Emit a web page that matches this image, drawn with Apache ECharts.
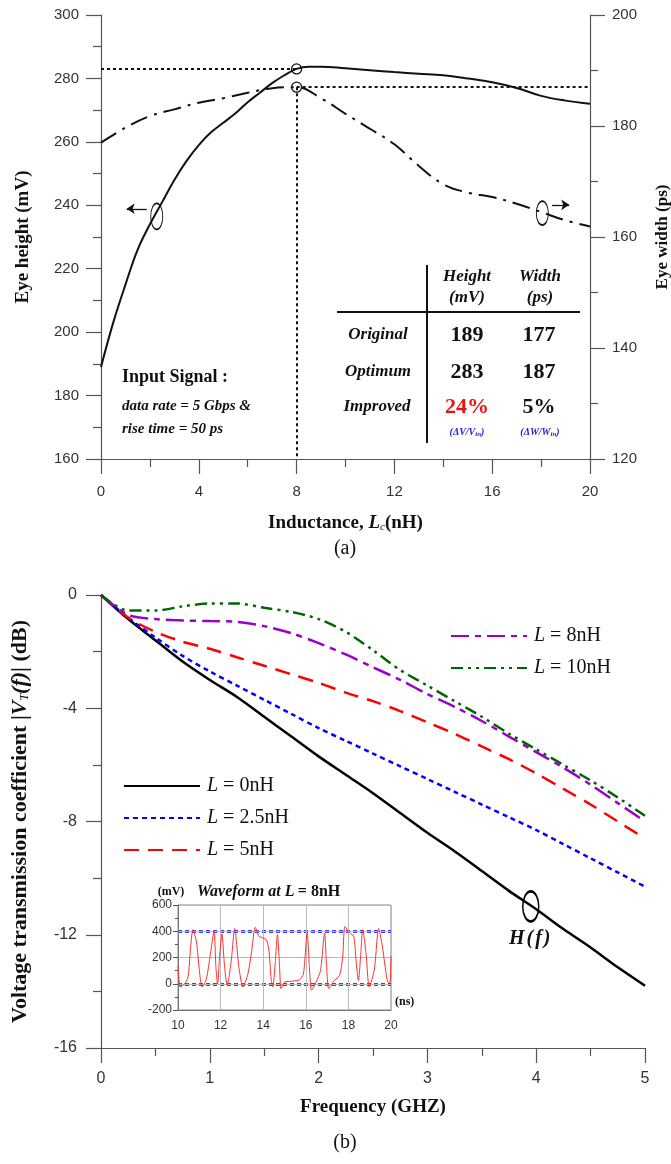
<!DOCTYPE html>
<html><head><meta charset="utf-8">
<script src="https://cdn.jsdelivr.net/npm/echarts@6/dist/echarts.min.js"></script>
<style>html,body{margin:0;padding:0;background:#fff}#c{width:671px;height:1164px}</style>
</head><body><div id="c"></div>
<script>
// ---------- (a) eye diagram vs inductance ----------
const heightL = [0,0.5,1,1.5,2,2.5,3,3.5,4,4.5,5,5.5,6,6.5,7,7.5,8,8.5,9,10,11,12,13,14,15,16,17,18,19,20];
const heightMV = [189,203,215,226,234,241,248,254,259,263,266,269,272.5,275.5,278.5,281,283,283.7,283.7,283.2,282.6,282,281.5,281,280,278.8,277,274.5,273,272];
const widthL = [0,1,2,3,4,5,6,7,8,9,10,11,12,13,14,15,16,17,18,19,20];
const widthPS = [177,179.7,181.8,183,184.2,185,186,186.8,187,185,182.2,179.5,176.7,172.8,169.5,168,167.2,166,164.5,163,161.9];
const optimumL = 8, optimumH = 283, optimumW = 187;

// ---------- (b) transmission coefficient ----------
const freq = [0,0.25,0.5,0.75,1,1.25,1.5,1.75,2,2.25,2.5,2.75,3,3.25,3.5,3.75,4,4.25,4.5,4.75,5];
const vt0 = [0,-0.85,-1.6,-2.35,-3.0,-3.6,-4.3,-5.0,-5.7,-6.35,-7.0,-7.7,-8.4,-9.05,-9.75,-10.45,-11.1,-11.8,-12.45,-13.15,-13.8];
const vt25 = [0,-0.8,-1.5,-2.15,-2.7,-3.2,-3.7,-4.2,-4.7,-5.15,-5.6,-6.05,-6.5,-6.95,-7.4,-7.85,-8.3,-8.8,-9.3,-9.8,-10.3];
const vt5 = [0,-0.8,-1.3,-1.65,-1.9,-2.2,-2.5,-2.8,-3.1,-3.45,-3.75,-4.1,-4.5,-4.9,-5.35,-5.8,-6.3,-6.85,-7.4,-8.0,-8.6];
const vt8 = [0,-0.7,-0.85,-0.9,-0.92,-0.95,-1.1,-1.35,-1.7,-2.1,-2.55,-3.0,-3.5,-3.95,-4.45,-5.0,-5.55,-6.1,-6.7,-7.35,-8.0];
const vt10 = [0,-0.55,-0.55,-0.4,-0.3,-0.3,-0.45,-0.6,-0.85,-1.3,-1.95,-2.65,-3.2,-3.75,-4.3,-4.9,-5.45,-6.0,-6.55,-7.15,-7.8];
const hfMark = [3.95, -11.0];

// ---------- inset waveform at L = 8nH ----------
const wfT = [10.00,10.11,10.31,10.47,10.58,10.70,10.86,11.02,11.13,11.33,11.52,11.69,11.78,11.86,11.95,12.06,12.19,12.31,12.50,12.66,12.86,13.05,13.28,13.44,13.63,13.80,14.14,14.27,14.38,14.45,14.56,14.67,14.77,14.84,15.0,15.39,15.70,15.89,16.06,16.17,16.27,16.48,16.69,16.88,16.98,17.08,17.34,17.58,17.73,17.84,18.05,18.25,18.36,18.47,18.58,18.67,18.83,18.98,19.22,19.42,19.58,19.73,19.86,19.95,20.0];
const wfV = [137,-25,0,50,250,412,325,75,-25,37,225,400,125,0,200,380,125,-12,175,420,125,-25,75,225,430,362,337,250,25,-25,150,375,125,-37,12,20,30,75,387,125,-50,12,100,387,125,-37,25,62,200,437,387,362,175,25,225,412,225,-25,112,420,300,125,12,12,212];
const wfLevels = [400, 0];

const zip = (a, b) => a.map((v, i) => [v, b[i]]);
const SERIF = '"Liberation Serif","Times New Roman",serif';
const SANS = '"Liberation Sans",Arial,sans-serif';
const INK = '#111';

const axisCommon = (extra) => Object.assign({
  type: 'value',
  axisLine: { show: true, onZero: false, lineStyle: { color: '#555', width: 1.2 } },
  axisTick: { show: true, length: 15, lineStyle: { color: '#555', width: 1.2 } },
  minorTick: { show: true, splitNumber: 2, length: 8, lineStyle: { color: '#555', width: 1.2 } },
  splitLine: { show: false },
  axisLabel: { color: '#333', fontFamily: SANS, fontSize: 15 },
  nameLocation: 'middle',
  nameMoveOverlap: false,
  nameTextStyle: { color: INK, fontFamily: SERIF, fontWeight: 'bold', fontSize: 19 }
}, extra);

const dotted = { type: [3, 3], width: 2, color: INK };
const ring = (coord, size) => ({ coord, symbol: 'circle', symbolSize: size,
  itemStyle: { color: 'rgba(0,0,0,0)', borderColor: INK, borderWidth: 1.3 }, label: { show: false } });
const arrowLine = (from, to) => ({ silent: true, symbol: ['none', 'arrow'], symbolSize: 8, label: { show: false },
  lineStyle: { type: 'solid', color: INK, width: 1.3 }, data: [[{ coord: from }, { coord: to }]] });

const legendFmt = name => '{i|L}{n|' + name.slice(1) + '}';
const legendRich = { i: { fontFamily: SERIF, fontStyle: 'italic', fontSize: 20, color: INK },
                     n: { fontFamily: SERIF, fontSize: 20, color: INK } };
const legendBase = { orient: 'vertical', itemWidth: 76, itemHeight: 20, itemGap: 12, selectedMode: false,
  formatter: legendFmt, itemStyle: { opacity: 0 }, textStyle: { rich: legendRich, padding: [0, 0, 0, 2] } };

const option = {
  animation: false,
  backgroundColor: '#fff',
  grid: [
    { left: 101, top: 15, width: 489, height: 444, outerBoundsMode: 'none', containLabel: false },
    { left: 101, top: 595, width: 544, height: 453, outerBoundsMode: 'none', containLabel: false },
    { left: 178, top: 905, width: 213, height: 105, outerBoundsMode: 'none', containLabel: false,
      show: true, borderColor: '#888', borderWidth: 1, backgroundColor: '#fff', z: 5 }
  ],
  xAxis: [
    axisCommon({ gridIndex: 0, min: 0, max: 20, interval: 4,
      axisLabel: { color: '#333', fontFamily: SANS, fontSize: 15, margin: 25 },
      name: '{b|Inductance, }{i|L}{s|c}{b|(nH)}', nameGap: 54,
      nameTextStyle: { rich: {
        b: { fontFamily: SERIF, fontWeight: 'bold', fontSize: 19, color: INK },
        i: { fontFamily: SERIF, fontWeight: 'bold', fontStyle: 'italic', fontSize: 19, color: INK },
        s: { fontFamily: SERIF, fontStyle: 'italic', fontSize: 11, color: INK, padding: [9, 0, 0, 0] } } } }),
    axisCommon({ gridIndex: 1, min: 0, max: 5, interval: 1,
      axisLabel: { color: '#333', fontFamily: SANS, fontSize: 16, margin: 23 },
      name: 'Frequency (GHZ)', nameGap: 50 }),
    axisCommon({ gridIndex: 2, min: 10, max: 20, interval: 2, z: 6,
      axisTick: { show: false }, minorTick: { show: false },
      axisLine: { show: true, onZero: false, lineStyle: { color: '#777', width: 1 } },
      splitLine: { show: true, lineStyle: { color: '#bbb', width: 1 } },
      axisLabel: { color: '#333', fontFamily: SANS, fontSize: 12, margin: 10 },
      name: '(ns)', nameLocation: 'end', nameGap: 4,
      nameTextStyle: { color: INK, fontFamily: SERIF, fontWeight: 'bold', fontSize: 12, verticalAlign: 'bottom', padding: [0, 0, 2, 0] } })
  ],
  yAxis: [
    axisCommon({ gridIndex: 0, min: 160, max: 300, interval: 20,
      axisLabel: { color: '#333', fontFamily: SANS, fontSize: 15, margin: 22 },
      name: 'Eye height (mV)', nameGap: 68 }),
    axisCommon({ gridIndex: 0, min: 120, max: 200, interval: 20, position: 'right',
      axisLabel: { color: '#333', fontFamily: SANS, fontSize: 15, margin: 22 },
      name: 'Eye width (ps)', nameGap: 64, nameRotate: 90,
      nameTextStyle: { color: INK, fontFamily: SERIF, fontWeight: 'bold', fontSize: 17 } }),
    axisCommon({ gridIndex: 1, min: -16, max: 0, interval: 4,
      axisLabel: { color: '#333', fontFamily: SANS, fontSize: 16, margin: 24 },
      name: '{b|Voltage transmission coefficient |}{i|V}{s|T}{i|(f)}{b|| (dB)}', nameGap: 70,
      nameTextStyle: { rich: {
        b: { fontFamily: SERIF, fontWeight: 'bold', fontSize: 22, color: INK },
        i: { fontFamily: SERIF, fontWeight: 'bold', fontStyle: 'italic', fontSize: 22, color: INK },
        s: { fontFamily: SERIF, fontStyle: 'italic', fontSize: 12, color: INK, padding: [10, 0, 0, 0] } } } }),
    axisCommon({ gridIndex: 2, min: -200, max: 600, interval: 200, z: 6,
      axisTick: { show: true, length: 5, lineStyle: { color: '#555' } },
      minorTick: { show: true, splitNumber: 2, length: 3, lineStyle: { color: '#555' } },
      axisLine: { show: true, onZero: false, lineStyle: { color: '#777', width: 1 } },
      splitLine: { show: true, lineStyle: { color: '#bbb', width: 1 } },
      axisLabel: { color: '#333', fontFamily: SANS, fontSize: 12, margin: 6 } })
  ],
  legend: [
    Object.assign({ data: ['L = 0nH', 'L = 2.5nH', 'L = 5nH'], left: 118, top: 771 }, legendBase),
    Object.assign({ data: ['L = 8nH', 'L = 10nH'], left: 445, top: 621 }, legendBase)
  ],
  series: [
    { name: 'Eye height', type: 'line', xAxisIndex: 0, yAxisIndex: 0, data: zip(heightL, heightMV),
      smooth: 0.4, symbol: 'none', lineStyle: { color: INK, width: 2 },
      markLine: { silent: true, symbol: 'none', label: { show: false }, lineStyle: dotted,
        data: [[{ coord: [0, optimumH] }, { coord: [optimumL, optimumH] }]] },
      markPoint: { silent: true, data: [ring([optimumL, optimumH], 10), ring([2.28, 236.5], [12, 26])] } },
    { name: 'Eye height arrow', type: 'line', xAxisIndex: 0, yAxisIndex: 0, data: [],
      markLine: arrowLine([1.87, 238.9], [1.05, 238.9]) },
    { name: 'Eye width', type: 'line', xAxisIndex: 0, yAxisIndex: 1, data: zip(widthL, widthPS),
      smooth: 0.4, symbol: 'none', lineStyle: { color: INK, width: 2, type: [18, 7, 3, 7] },
      markLine: { silent: true, symbol: 'none', label: { show: false }, lineStyle: dotted,
        data: [[{ coord: [optimumL, optimumW] }, { coord: [20, optimumW] }],
               [{ coord: [optimumL, optimumW] }, { coord: [optimumL, 120] }]] },
      markPoint: { silent: true, data: [ring([optimumL, optimumW], 10), ring([18.05, 164.3], [12, 24])] } },
    { name: 'Eye width arrow', type: 'line', xAxisIndex: 0, yAxisIndex: 1, data: [],
      markLine: arrowLine([18.45, 165.8], [19.15, 165.8]) },

    { name: 'L = 0nH', type: 'line', xAxisIndex: 1, yAxisIndex: 2, data: zip(freq, vt0), smooth: 0.3,
      symbol: 'none', lineStyle: { color: '#000', width: 2.5, type: 'solid' }, itemStyle: { color: '#000' },
      markPoint: { silent: true, data: [Object.assign(ring(hfMark, [16, 30]), {
        label: { show: true, position: 'bottom', distance: 6, formatter: '{a|H}{b|(}{a|f}{b|)}',
          rich: { a: { fontFamily: SERIF, fontWeight: 'bold', fontStyle: 'italic', fontSize: 20, color: INK },
                  b: { fontFamily: SERIF, fontWeight: 'bold', fontStyle: 'italic', fontSize: 20, color: INK, padding: [0, 2, 0, 2] } } },
        itemStyle: { color: 'rgba(0,0,0,0)', borderColor: '#000', borderWidth: 2 } })] } },
    { name: 'L = 2.5nH', type: 'line', xAxisIndex: 1, yAxisIndex: 2, data: zip(freq, vt25), smooth: 0.3,
      symbol: 'none', lineStyle: { color: '#0000ff', width: 2.5, type: [5, 4] }, itemStyle: { color: '#0000ff' } },
    { name: 'L = 5nH', type: 'line', xAxisIndex: 1, yAxisIndex: 2, data: zip(freq, vt5), smooth: 0.3,
      symbol: 'none', lineStyle: { color: '#ff0000', width: 2.5, type: [15, 9] }, itemStyle: { color: '#ff0000' } },
    { name: 'L = 8nH', type: 'line', xAxisIndex: 1, yAxisIndex: 2, data: zip(freq, vt8), smooth: 0.3,
      symbol: 'none', lineStyle: { color: '#9900cc', width: 2.5, type: [18, 6, 6, 6] }, itemStyle: { color: '#9900cc' } },
    { name: 'L = 10nH', type: 'line', xAxisIndex: 1, yAxisIndex: 2, data: zip(freq, vt10), smooth: 0.3,
      symbol: 'none', lineStyle: { color: '#006600', width: 2.5, type: [12, 5, 3, 5, 3, 5] }, itemStyle: { color: '#006600' } },

    { name: 'Waveform', type: 'line', xAxisIndex: 2, yAxisIndex: 3, data: zip(wfT, wfV), smooth: 0.25,
      symbol: 'none', z: 7, lineStyle: { color: '#ff3030', width: 1 },
      markLine: { silent: true, symbol: 'none', label: { show: false },
        lineStyle: { color: '#0000ff', width: 2.5, type: [4, 3] },
        data: wfLevels.map(v => ({ yAxis: v })) } }
  ],
  graphic: [
    // table of (a)
    { type: 'line', shape: { x1: 427, y1: 265, x2: 427, y2: 443 }, style: { stroke: INK, lineWidth: 2 } },
    { type: 'line', shape: { x1: 337, y1: 312, x2: 580, y2: 312 }, style: { stroke: INK, lineWidth: 2 } },
    ...[['Height', 467, 277], ['(mV)', 467, 298], ['Width', 540, 277], ['(ps)', 540, 298]].map(([t, x, y]) => ({
      type: 'text', x, y, style: { text: t, font: 'italic bold 17px ' + SERIF, fill: INK, align: 'center', verticalAlign: 'middle' } })),
    ...[['Original', 378, 335], ['Optimum', 378, 372], ['Improved', 377, 407]].map(([t, x, y]) => ({
      type: 'text', x, y, style: { text: t, font: 'italic bold 17px ' + SERIF, fill: INK, align: 'center', verticalAlign: 'middle' } })),
    ...[['189', 467, 335, INK], ['177', 539, 335, INK], ['283', 467, 372, INK], ['187', 539, 372, INK], ['24%', 467, 407, '#ee1111'], ['5%', 539, 407, INK]].map(([t, x, y, c]) => ({
      type: 'text', x, y, style: { text: t, font: 'bold 22px ' + SERIF, fill: c, align: 'center', verticalAlign: 'middle' } })),
    { type: 'text', x: 467, y: 432, style: { text: '{a|(ΔV/V}{s|in}{a|)}', align: 'center', verticalAlign: 'middle',
      rich: { a: { font: 'italic bold 10px ' + SERIF, fill: '#2222dd' }, s: { font: 'italic bold 7px ' + SERIF, fill: '#2222dd', padding: [4, 0, 0, 0] } } } },
    { type: 'text', x: 540, y: 432, style: { text: '{a|(ΔW/W}{s|in}{a|)}', align: 'center', verticalAlign: 'middle',
      rich: { a: { font: 'italic bold 10px ' + SERIF, fill: '#2222dd' }, s: { font: 'italic bold 7px ' + SERIF, fill: '#2222dd', padding: [4, 0, 0, 0] } } } },
    { type: 'text', x: 122, y: 377, style: { text: 'Input Signal :', font: 'bold 18px ' + SERIF, fill: INK, verticalAlign: 'middle' } },
    { type: 'text', x: 122, y: 406, style: { text: 'data rate = 5 Gbps &', font: 'italic bold 15px ' + SERIF, fill: INK, verticalAlign: 'middle' } },
    { type: 'text', x: 122, y: 429, style: { text: 'rise time = 50 ps', font: 'italic bold 15px ' + SERIF, fill: INK, verticalAlign: 'middle' } },
    { type: 'text', x: 345, y: 549, style: { text: '(a)', font: '20px ' + SERIF, fill: INK, align: 'center', verticalAlign: 'middle' } },
    { type: 'text', x: 345, y: 1143, style: { text: '(b)', font: '20px ' + SERIF, fill: INK, align: 'center', verticalAlign: 'middle' } },
    // inset title
    { type: 'text', x: 171, y: 892, z: 10, style: { text: '(mV)', font: 'bold 12px ' + SERIF, fill: INK, align: 'center', verticalAlign: 'middle' } },
    { type: 'text', x: 197, y: 892, z: 10, style: { text: '{i|Waveform at L} {b|= 8nH}', verticalAlign: 'middle',
      rich: { i: { font: 'italic bold 16px ' + SERIF, fill: INK }, b: { font: 'bold 16px ' + SERIF, fill: INK } } } }
  ]
};

const chart = echarts.init(document.getElementById('c'), null, { renderer: 'canvas' });
chart.setOption(option);
</script>
</body></html>
